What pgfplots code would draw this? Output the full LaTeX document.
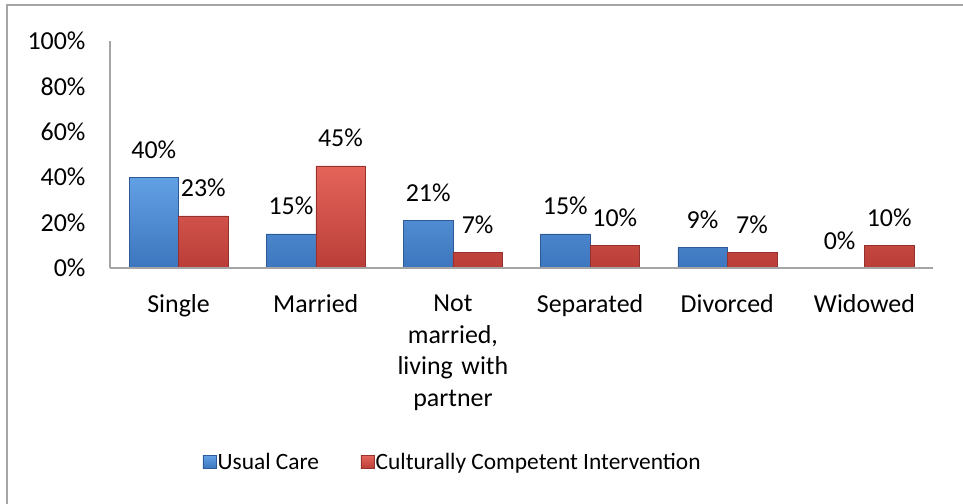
\documentclass[border=0pt]{standalone}
\usepackage{pgfplots}
\pgfplotsset{compat=1.18}
\usepackage{fontspec}
\setmainfont{Carlito}
\definecolor{bluetop}{RGB}{98,160,228}
\definecolor{bluemid}{RGB}{76,142,214}
\definecolor{bluebot}{RGB}{60,118,190}
\definecolor{blueedge}{RGB}{45,90,150}
\definecolor{redtop}{RGB}{228,100,90}
\definecolor{redmid}{RGB}{210,78,70}
\definecolor{redbot}{RGB}{186,62,56}
\definecolor{rededge}{RGB}{150,50,45}
\definecolor{axgray}{RGB}{165,165,165}
\begin{document}
\begin{tikzpicture}
\path[use as bounding box] (0,0) rectangle (963bp,504bp);
\fill[white] (0,0) rectangle (963bp,504bp);
\draw[axgray, line width=1.8bp] (7bp,0) -- (7bp,499bp) -- (963bp,499bp);
\begin{axis}[
  at={(110bp,236bp)}, anchor=south west,
  scale only axis, width=823bp, height=227bp,
  ymin=0, ymax=100, xmin=-0.5, xmax=5.5,
  axis lines=left, axis on top,
  axis line style={-, axgray, line width=1.4bp},
  major tick length=0pt,
  ytick={0,20,40,60,80,100},
  yticklabels={0\%,20\%,40\%,60\%,80\%,100\%},
  xtick={0,1,2,3,4,5},
  xticklabels={Single,Married,{Not\\married,\\living with\\partner},Separated,Divorced,Widowed},
  yticklabel style={font=\fontsize{26}{32}\selectfont, anchor=east, xshift=-21bp},
  xticklabel style={font=\fontsize{26}{32}\selectfont, align=center, text width=132bp, anchor=north, yshift=-23bp},
  ybar=0pt, bar width=49.5bp,
  nodes near coords={\pgfmathprintnumber[assume math mode=true]{\pgfplotspointmeta}\%},
  every node near coord/.append style={font=\fontsize{26}{32}\selectfont, anchor=base, yshift=19bp, inner sep=0pt, black},
  legend style={draw=none, fill=none, at={(0.416,-0.855)}, anchor=center,
    font=\fontsize{23.5}{28}\selectfont, legend columns=2,
    /tikz/every even column/.append style={column sep=40bp},
    nodes={inner sep=1.5bp}},
  legend cell align=left,
  legend image code/.code={\draw[#1] (0bp,-6.5bp) rectangle (13bp,6.5bp);},
  clip=false,
]
\addplot[draw=blueedge, line width=0.5bp, top color=bluetop, middle color=bluemid, bottom color=bluebot]
  coordinates {(0,40) (1,15) (2,21) (3,15) (4,9) (5,0)};
\addplot[draw=rededge, line width=0.5bp, top color=redtop, middle color=redmid, bottom color=redbot]
  coordinates {(0,23) (1,45) (2,7) (3,10) (4,7) (5,10)};
\legend{Usual Care, Culturally Competent Intervention}
\end{axis}
\end{tikzpicture}
\end{document}
